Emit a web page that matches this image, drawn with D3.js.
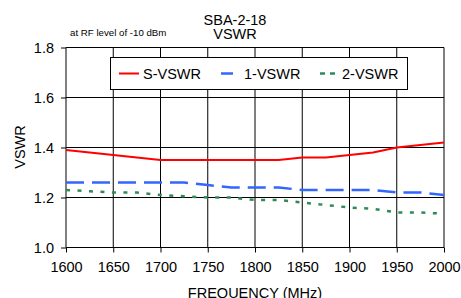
<!DOCTYPE html>
<html><head><meta charset="utf-8">
<script src="https://cdn.jsdelivr.net/npm/d3@7"></script>
<style>
html,body{margin:0;padding:0;background:#fff;}
svg{display:block;font-family:"Liberation Sans",Arial,sans-serif;}
</style></head>
<body>
<script>
const freqs = [1600,1625,1650,1675,1700,1725,1750,1775,1800,1825,1850,1875,1900,1925,1950,1975,2000];
const sVSWR = [1.39,1.38,1.37,1.36,1.35,1.35,1.35,1.35,1.35,1.35,1.36,1.36,1.37,1.38,1.40,1.41,1.42];
const vswr1 = [1.26,1.26,1.26,1.26,1.26,1.26,1.25,1.24,1.24,1.24,1.23,1.23,1.23,1.23,1.22,1.22,1.21];
const vswr2 = [1.23,1.225,1.22,1.22,1.21,1.205,1.20,1.20,1.19,1.19,1.18,1.17,1.16,1.155,1.14,1.14,1.135];
const seriesNames = ["S-VSWR","1-VSWR","2-VSWR"];
const xTicks = [1600,1650,1700,1750,1800,1850,1900,1950,2000];
const yTicks = [1.0,1.2,1.4,1.6,1.8];

const W=461,H=298;
const svg=d3.select("body").append("svg").attr("width",W).attr("height",H);
const x=d3.scaleLinear().domain([1600,2000]).range([66,444]);
const y=d3.scaleLinear().domain([1.0,1.8]).range([247.5,47.5]);

// gridlines
svg.append("g").selectAll("line").data(xTicks.slice(1)).join("line")
  .attr("x1",d=>x(d)).attr("x2",d=>x(d)).attr("y1",y(1.8)).attr("y2",y(1.0))
  .attr("stroke","#000").attr("stroke-width",1);
svg.append("g").selectAll("line").data(yTicks.slice(1)).join("line")
  .attr("x1",x(1600)).attr("x2",x(2000)).attr("y1",d=>y(d)).attr("y2",d=>y(d))
  .attr("stroke","#000").attr("stroke-width",1);

// axes
const xAxis=d3.axisBottom(x).tickValues(xTicks).tickSize(5).tickPadding(14).tickFormat(d3.format("d"));
const gx=svg.append("g").attr("transform",`translate(0,${y(1.0)})`).call(xAxis);
const yAxis=d3.axisLeft(y).tickValues(yTicks).tickSize(5).tickPadding(7).tickFormat(d3.format(".1f"));
const gy=svg.append("g").attr("transform",`translate(${x(1600)},0)`).call(yAxis);
[gx,gy].forEach(g=>{
  g.select(".domain").attr("stroke","#000").attr("d", g===gx ? `M${x(1600)},0H${x(2000)}` : `M0,${y(1.0)}V${y(1.8)}`);
  g.selectAll(".tick line").attr("stroke","#000");
  g.selectAll("text").attr("font-size","14.5px").attr("fill","#000").attr("font-family","'Liberation Sans',Arial,sans-serif");
});
gx.selectAll(".tick text").attr("dy","0.4em");
gy.selectAll(".tick text").attr("dy","0.36em");

// lines
const line=vals=>d3.line().x((d,i)=>x(freqs[i])).y(d=>y(d))(vals);
const styles=[
  {data:sVSWR,color:"#ff0000",dash:null,w:2},
  {data:vswr1,color:"#3366ff",dash:"18,8",w:2.5},
  {data:vswr2,color:"#2e8b57",dash:"4,7.5",w:2.5}
];
styles.forEach(s=>{
  svg.append("path").attr("d",line(s.data)).attr("fill","none")
    .attr("stroke",s.color).attr("stroke-width",s.w)
    .attr("stroke-dasharray",s.dash);
});

// legend
const lg=svg.append("g");
lg.append("rect").attr("x",110.5).attr("y",57.5).attr("width",297).attr("height",32)
  .attr("fill","#fff").attr("stroke","#000").attr("stroke-width",1);
const legendPos=[{x1:119,x2:139,tx:143},{x1:221,x2:233,tx:244},{x1:320,x2:335,tx:342}];
const legendDash=[null,null,"5,5"];
seriesNames.forEach((n,i)=>{
  lg.append("line").attr("x1",legendPos[i].x1).attr("x2",legendPos[i].x2).attr("y1",73.5).attr("y2",73.5)
    .attr("stroke",styles[i].color).attr("stroke-width",styles[i].w).attr("stroke-dasharray",legendDash[i]);
  lg.append("text").attr("x",legendPos[i].tx).attr("y",79).attr("font-size","14.5px").text(n);
});

// titles
svg.append("text").attr("x",235).attr("y",25).attr("text-anchor","middle").attr("font-size","14.5px").text("SBA-2-18");
svg.append("text").attr("x",235).attr("y",38.5).attr("text-anchor","middle").attr("font-size","14.5px").text("VSWR");
svg.append("text").attr("x",70).attr("y",36).attr("font-size","9.7px").text("at RF level of -10 dBm");
svg.append("text").attr("x",255).attr("y",298).attr("text-anchor","middle").attr("font-size","14.5px").text("FREQUENCY (MHz)");
svg.append("text").attr("transform","translate(25,147) rotate(-90)").attr("text-anchor","middle").attr("font-size","14.5px").text("VSWR");
</script>
</body></html>
